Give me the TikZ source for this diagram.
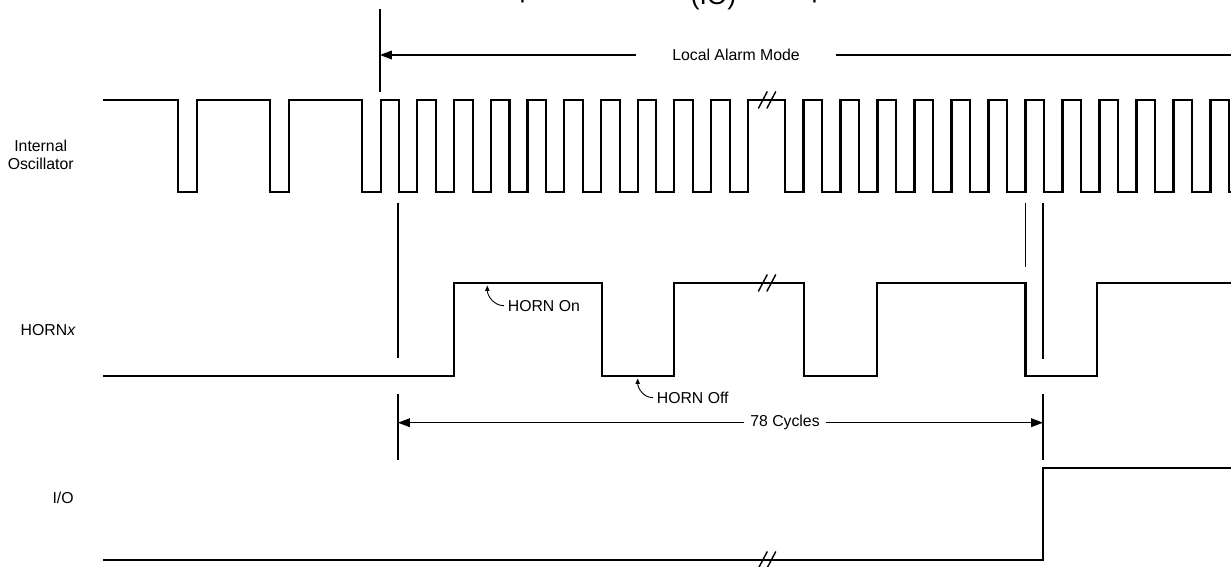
\documentclass[tikz,border=0pt]{standalone}
\usepackage{fontspec}
\setmainfont{Liberation Sans}
\usetikzlibrary{positioning,arrows.meta,calc}

\tikzset{
  wave/.style={line width=1.2pt,line join=miter},
  marker/.style={line width=0.6pt},
  dimline/.style={line width=0.6pt},
  dimtip/.style={-{Triangle[length=6.8pt,width=5pt]}},
  notetip/.style={-{Triangle[length=3pt,width=2.4pt]},line width=0.5pt},
  sig/.style={inner sep=0pt,font=\fontsize{9}{10.2}\selectfont,align=center},
  dimlbl/.style={fill=white,inner ysep=1pt,font=\fontsize{9}{10.2}\selectfont},
  brkln/.style={line width=0.8pt},
  ttl/.style={inner sep=0pt,anchor=base west,font=\fontsize{15}{18}\selectfont}
}

\begin{document}
\begin{tikzpicture}[x=0.02cm,y=-0.02cm]
\useasboundingbox (0,0) rectangle (1231,567);
% title, cut off by the page edge
\node[ttl] (ttl-a) at (519.3,-2) {p};
\node[ttl] (ttl-b) at (690.5,5) {(IO)};
\node[ttl] (ttl-c) at (811.3,-2) {p};

% signal names
\node[sig,anchor=east] (lbl-osc) at (74,155) {Internal\\Oscillator};
\node[sig,anchor=base east] (lbl-horn) at (76,335.7) {HORN\textit{x}};
\node[sig,anchor=base east] (lbl-io) at (74,503.7) {I/O};

% internal oscillator: slow, then fast
\coordinate (osc0) at (103,100);
\draw[wave] (osc0) -| (177.7,192) -| (196.7,100) -| (270,192) -| (289,100) -| (362,192) -| (380.7,100)
  foreach \k in {0,...,9} { -| ({399.4+36.7*\k},192) -| ({417.4+36.7*\k},100) }
  -| (785,192)
  foreach \k in {0,...,10} { -| ({803.5+37*\k},100) -| ({822+37*\k},192) }
  -| (1210.5,100) -| (1229,192) -- (1231,192);

% HORNx
\coordinate (horn0) at (103,376);
\draw[wave] (horn0) -| (454,283) -| (601.7,376) -| (674,283) -| (804,376) -| (876.7,283)
  -| (1025.5,376) -| (1097.3,283) -- (1231,283);

% I/O
\coordinate (io0) at (103,560);
\draw[wave] (io0) -| (1043,468) -- (1231,468);

% break marks
\foreach \yy in {100,283,560} {
  \draw[brkln] (758.3,\yy+8.5) -- ++(9,-17);
  \draw[brkln] (766.8,\yy+8.5) -- ++(9,-17);
}

% marker lines
\draw[marker] (380,9) -- (380,92);
\draw[marker] (398,203) -- (398,358);
\draw[marker] (398,394) -- (398,460);
\draw[marker] (1025.5,203) -- (1025.5,267);
\draw[marker] (1043,203) -- (1043,359);
\draw[marker] (1043,394) -- (1043,460);

% local alarm mode
\coordinate (lam-l) at (380,55);
\coordinate (lam-r) at (1231,55);
\node[dimlbl,inner xsep=20.4pt] (lam) at (736,55) {Local Alarm Mode};
\draw[dimline] (lam.east) -- (lam-r);
\draw[dimline,dimtip] (lam.west) -- (lam-l);

% 78 cycles
\coordinate (cyc-l) at (398,422.7);
\coordinate (cyc-r) at (1043,422.7);
\node[dimlbl,inner xsep=3.2pt] (cyc) at (785,422.7) {78 Cycles};
\draw[dimline,dimtip] (cyc.west) -- (cyc-l);
\draw[dimline,dimtip] (cyc.east) -- (cyc-r);

% horn on / off notes
\node[sig,anchor=west] (hon) at (507.5,305.7) {HORN On};
\coordinate (hon-tip) at (487.3,285.5);
\draw[notetip] ([xshift=-2pt]hon.west) to[out=180,in=-90] (hon-tip);
\node[sig,anchor=west] (hoff) at (656.5,397.7) {HORN Off};
\coordinate (hoff-tip) at (637.7,378.5);
\draw[notetip] ([xshift=-2pt]hoff.west) to[out=180,in=-90] (hoff-tip);
\end{tikzpicture}
\end{document}
